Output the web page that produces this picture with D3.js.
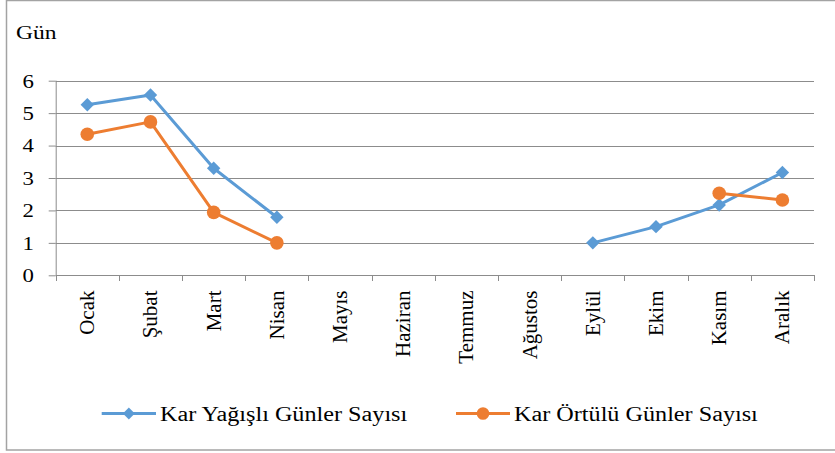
<!DOCTYPE html>
<html>
<head>
<meta charset="utf-8">
<script src="https://cdn.jsdelivr.net/npm/d3@7"></script>
<style>
  html, body { margin: 0; padding: 0; background: #fff; }
  svg { display: block; }
</style>
</head>
<body>
<svg id="chart" width="835" height="453"></svg>
<script>
const months = ["Ocak","Şubat","Mart","Nisan","Mayıs","Haziran","Temmuz","Ağustos","Eylül","Ekim","Kasım","Aralık"];
const karYagisli = [5.26, 5.56, 3.30, 1.79, null, null, null, null, 1.0, 1.5, 2.17, 3.17];
const karOrtulu  = [4.35, 4.73, 1.94, 1.0, null, null, null, null, null, null, 2.53, 2.32];
const yTicks = [0, 1, 2, 3, 4, 5, 6];
const seriesNames = ["Kar Yağışlı Günler Sayısı", "Kar Örtülü Günler Sayısı"];
const seriesColors = ["#5b9bd5", "#ed7d31"];
const yTitle = "Gün";

const FONT = "Liberation Serif";
const svg = d3.select("#chart");
const gridColor = "#8c8c8c";

// outer border
svg.append("rect")
  .attr("x", 6.5).attr("y", 0.5).attr("width", 850).attr("height", 449.5)
  .attr("fill", "none").attr("stroke", "#a3a3a3").attr("stroke-width", 1.5);

const x = d3.scaleBand().domain(months).range([55.7, 814]).padding(0);
const y = d3.scaleLinear().domain([0, 6]).range([275.3, 80.7]);

// gridlines
svg.append("g").selectAll("line").data(yTicks.filter(d => d > 0)).join("line")
  .attr("x1", 55.7).attr("x2", 814)
  .attr("y1", d => Math.round(y(d)) + 0.5).attr("y2", d => Math.round(y(d)) + 0.5)
  .attr("stroke", gridColor).attr("stroke-width", 1);

// y axis with left ticks
const yAxis = d3.axisLeft(y).tickValues(yTicks).tickSize(7).tickFormat("");
const yg = svg.append("g").attr("transform", "translate(55.7,0)").call(yAxis);
yg.select(".domain").attr("stroke", gridColor).attr("d", `M0.5,${y(6)}V${y(0)}`);
yg.selectAll(".tick line").attr("stroke", gridColor);

// y tick labels
svg.append("g").selectAll("text").data(yTicks).join("text")
  .attr("transform", d => `translate(34,${y(d)}) scale(1.2,1)`)
  .attr("text-anchor", "end").attr("dy", "0.36em")
  .attr("font-family", FONT).attr("font-size", 19)
  .text(d => d);

// x axis line and boundary ticks
const boundaries = months.map(m => x(m)).concat([x.range()[1]]);
svg.append("line")
  .attr("x1", 55.7).attr("x2", 814)
  .attr("y1", Math.round(y(0)) + 0.5).attr("y2", Math.round(y(0)) + 0.5)
  .attr("stroke", gridColor);
svg.append("g").selectAll("line").data(boundaries).join("line")
  .attr("x1", d => Math.round(d) + 0.5).attr("x2", d => Math.round(d) + 0.5)
  .attr("y1", Math.round(y(0))).attr("y2", Math.round(y(0)) + 6)
  .attr("stroke", gridColor);

// x labels rotated
svg.append("g").selectAll("text").data(months).join("text")
  .attr("transform", d => `translate(${x(d) + x.bandwidth() / 2},290.5) rotate(-90)`)
  .attr("text-anchor", "end").attr("dy", "0.33em")
  .attr("font-family", FONT).attr("font-size", 21)
  .text(d => d);

// y title
svg.append("text")
  .attr("transform", "translate(16,39) scale(1.24,1)")
  .attr("font-family", FONT).attr("font-size", 19)
  .text(yTitle);

// lines
const allSeries = [karYagisli, karOrtulu];
const line = d3.line()
  .defined(d => d != null)
  .x((d, i) => x(months[i]) + x.bandwidth() / 2)
  .y(d => y(d));

allSeries.forEach((data, si) => {
  svg.append("path")
    .datum(data)
    .attr("fill", "none")
    .attr("stroke", seriesColors[si])
    .attr("stroke-width", 3)
    .attr("stroke-linejoin", "round")
    .attr("d", line);
});

const diamond = d3.symbol().type(d3.symbolDiamond2).size(115);
// markers
allSeries.forEach((data, si) => {
  const pts = data.map((v, i) => ({ v, i })).filter(p => p.v != null);
  const g = svg.append("g");
  if (si === 0) {
    g.selectAll("path").data(pts).join("path")
      .attr("transform", p => `translate(${x(months[p.i]) + x.bandwidth() / 2},${y(p.v)})`)
      .attr("d", diamond)
      .attr("fill", seriesColors[si]);
  } else {
    g.selectAll("circle").data(pts).join("circle")
      .attr("cx", p => x(months[p.i]) + x.bandwidth() / 2)
      .attr("cy", p => y(p.v))
      .attr("r", 6.8)
      .attr("fill", seriesColors[si]);
  }
});

// legend
const legendItems = [
  { x1: 101.7, x2: 156, tx: 160 },
  { x1: 456, x2: 510, tx: 514 }
];
legendItems.forEach((it, si) => {
  const g = svg.append("g");
  g.append("line")
    .attr("x1", it.x1).attr("x2", it.x2).attr("y1", 413.5).attr("y2", 413.5)
    .attr("stroke", seriesColors[si]).attr("stroke-width", 3);
  const cx = (it.x1 + it.x2) / 2;
  if (si === 0) {
    g.append("path").attr("transform", `translate(${cx},413.5)`)
      .attr("d", d3.symbol().type(d3.symbolDiamond2).size(90)).attr("fill", seriesColors[si]);
  } else {
    g.append("circle").attr("cx", cx).attr("cy", 413.5).attr("r", 6.3).attr("fill", seriesColors[si]);
  }
  g.append("text")
    .attr("transform", `translate(${it.tx},421) scale(1.21,1)`)
    .attr("font-family", FONT).attr("font-size", 20)
    .text(seriesNames[si]);
});
</script>
</body>
</html>
